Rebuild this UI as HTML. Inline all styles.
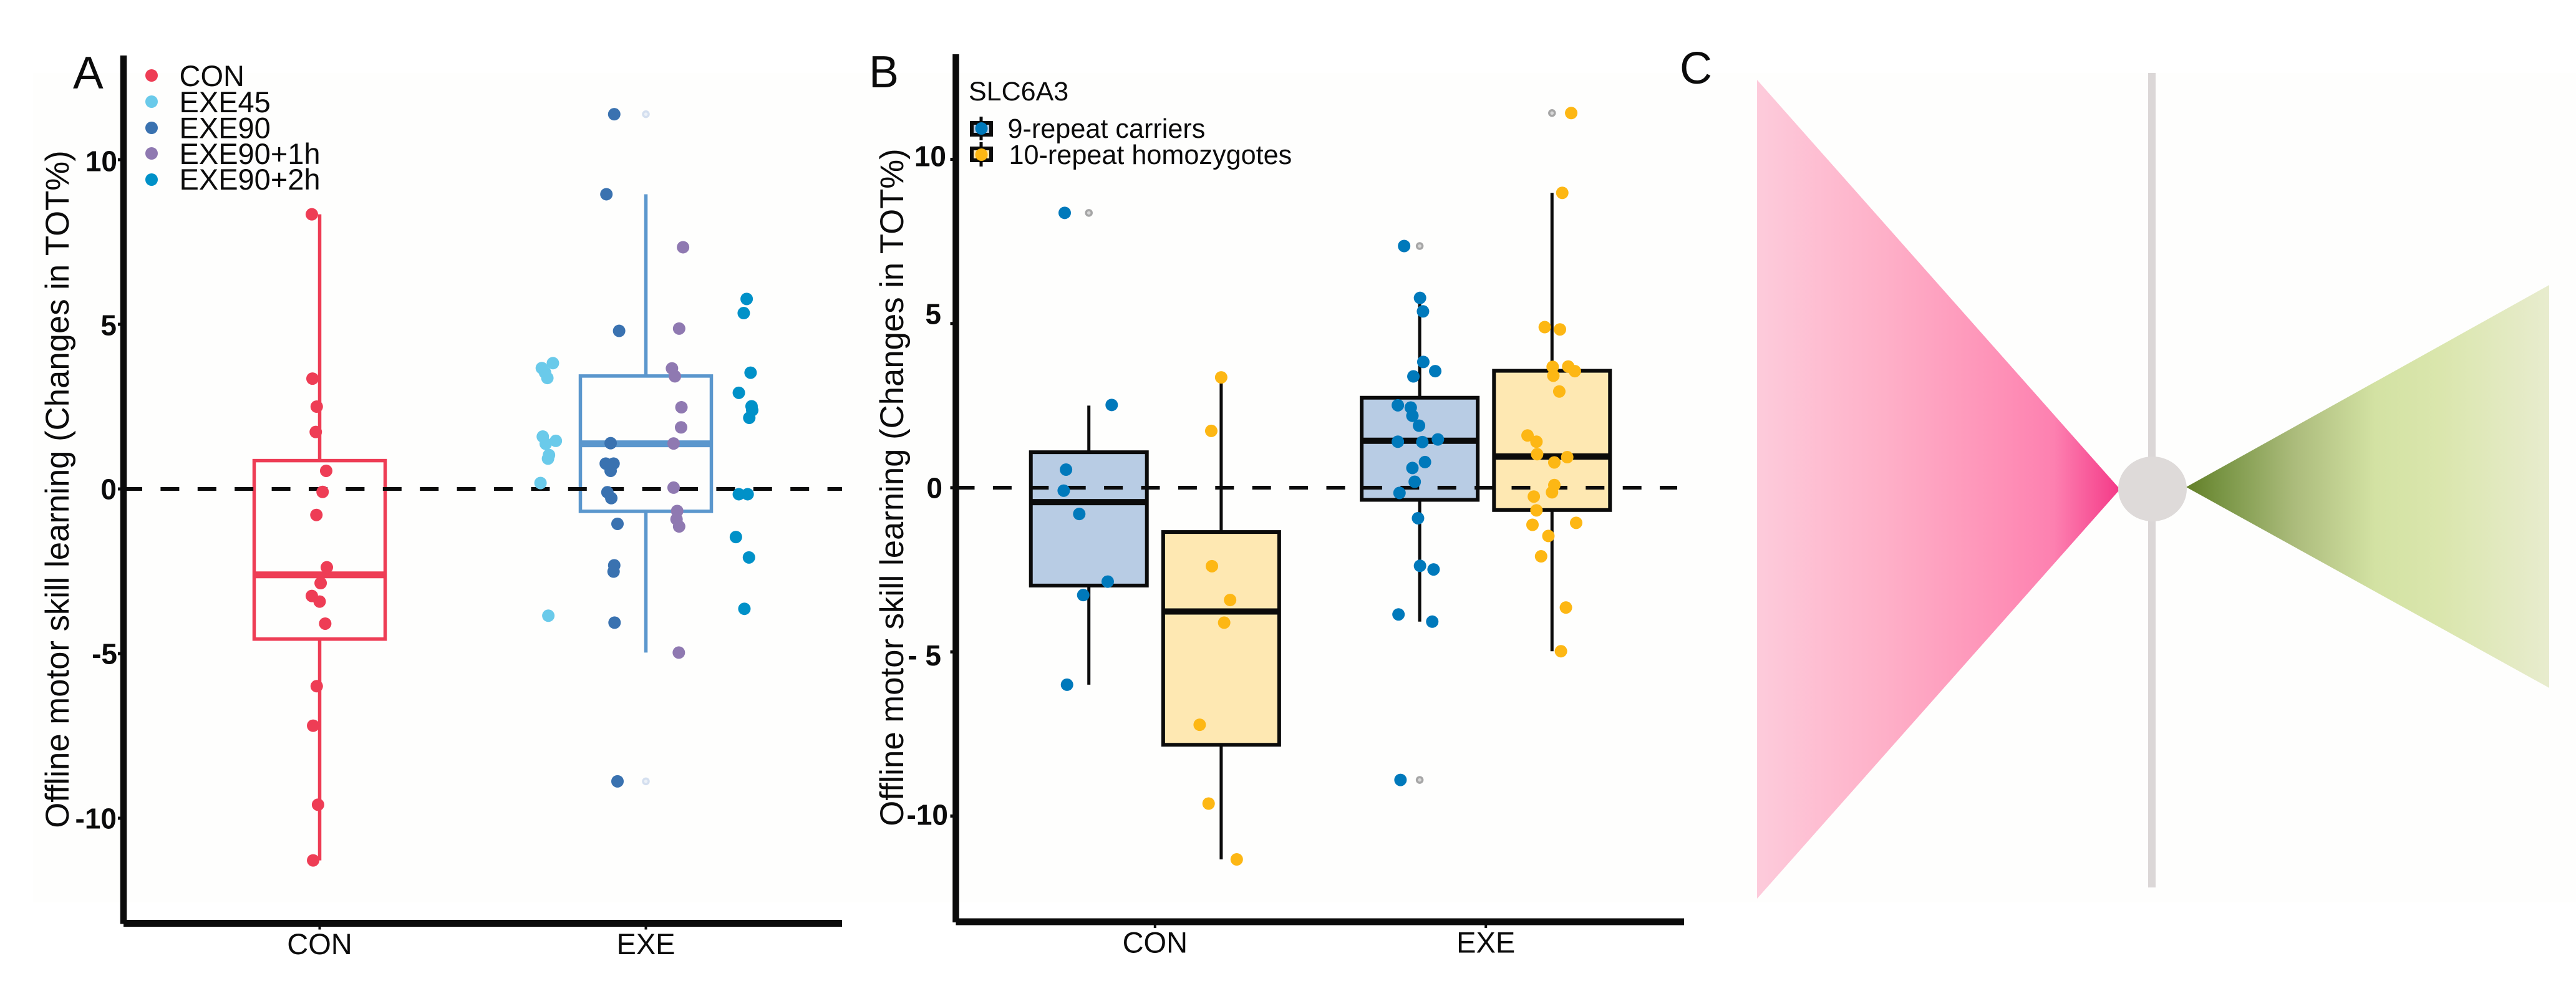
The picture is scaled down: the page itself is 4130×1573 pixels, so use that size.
<!DOCTYPE html>
<html lang="en">
<head>
<meta charset="utf-8">
<title>Offline motor skill learning</title>
<style>
html,body{margin:0;padding:0;background:#fff}
svg{display:block}
text{font-family:"Liberation Sans",sans-serif;fill:#0b0b0b}
</style>
</head>
<body>
<svg id="figure" xmlns="http://www.w3.org/2000/svg" width="4130" height="1573" viewBox="0 0 4130 1573">
  <defs>
    <linearGradient id="pinkGrad" gradientUnits="userSpaceOnUse" x1="2817" y1="0" x2="3398" y2="0">
      <stop offset="0" stop-color="#fdcbdb"/>
      <stop offset="0.35" stop-color="#feb0c8"/>
      <stop offset="0.65" stop-color="#fe93b8"/>
      <stop offset="0.82" stop-color="#fd80b0"/>
      <stop offset="1" stop-color="#f43a88"/>
    </linearGradient>
    <linearGradient id="greenGrad" gradientUnits="userSpaceOnUse" x1="3506" y1="0" x2="4087" y2="0">
      <stop offset="0" stop-color="#637f28"/>
      <stop offset="0.1" stop-color="#7a9646"/>
      <stop offset="0.3" stop-color="#acbc7c"/>
      <stop offset="0.52" stop-color="#d3e2a3"/>
      <stop offset="0.7" stop-color="#dae6ad"/>
      <stop offset="1" stop-color="#e8ecce"/>
    </linearGradient>
  </defs>

  <rect x="0" y="0" width="4130" height="1573" fill="#ffffff"/>
  <rect x="53" y="117" width="4077" height="1330" fill="#fefefd"/>

  <g id="panelA"></g>
  <g id="panelB"></g>

  <text x="117" y="142" font-size="73">A</text>
  <text x="1393" y="140" font-size="72">B</text>
  <text x="2693" y="134" font-size="72">C</text>

  <text font-size="52.7" text-anchor="middle" transform="translate(110,784.5) rotate(-90)">Offline motor skill learning (Changes in TOT%)</text>
  <text font-size="52.7" text-anchor="middle" transform="translate(1448,781.5) rotate(-90)">Offline motor skill learning (Changes in TOT%)</text>

  <g>
    <circle cx="243" cy="121" r="10" fill="#ee3d55"/>
    <text x="287.5" y="138" font-size="47">CON</text>
    <circle cx="243" cy="163" r="10" fill="#6acaea"/>
    <text x="287.5" y="180" font-size="47">EXE45</text>
    <circle cx="243" cy="205" r="10" fill="#3a72b0"/>
    <text x="287.5" y="221.5" font-size="47">EXE90</text>
    <circle cx="243" cy="246" r="10" fill="#8f79b1"/>
    <text x="287.5" y="263" font-size="47">EXE90+1h</text>
    <circle cx="243" cy="288" r="10" fill="#0091c8"/>
    <text x="287.5" y="304" font-size="47">EXE90+2h</text>
  </g>

  <g>
    <text x="1553" y="161" font-size="43">SLC6A3</text>
    <line x1="1573" x2="1573" y1="187" y2="225" stroke="#0b0b0b" stroke-width="5"/>
    <rect x="1558" y="197" width="31" height="19" fill="#b8cce4" stroke="#0b0b0b" stroke-width="6"/>
    <circle cx="1573.5" cy="206" r="10" fill="#0079bb"/>
    <text x="1615.5" y="221" font-size="43.2">9-repeat carriers</text>
    <line x1="1573" x2="1573" y1="228" y2="267" stroke="#0b0b0b" stroke-width="5"/>
    <rect x="1558" y="238" width="31" height="19" fill="#fee8b2" stroke="#0b0b0b" stroke-width="6"/>
    <circle cx="1573.5" cy="248" r="10" fill="#fdb714"/>
    <text x="1617.5" y="263" font-size="43.2">10-repeat homozygotes</text>
  </g>

  <g>
    <polygon points="2817,128 3399,784.5 2817,1441" fill="url(#pinkGrad)"/>
    <polygon points="3505,781 4087,457 4087,1103" fill="url(#greenGrad)"/>
    <rect x="3444" y="117" width="12" height="1306" fill="#dbd7d7"/>
    <ellipse cx="3451" cy="784" rx="55" ry="52" fill="#dedad9"/>
  </g>

<script>
// ---------- shared axis data ----------
const xCategories = ['CON', 'EXE'];
const yTickValues = [10, 5, 0, -5, -10];

// ---------- panel A data (x in category units, y in % change) ----------
const aBoxX = [0, 1];
const aBoxQ1 = [-4.56, -0.68];
const aBoxMedian = [-2.61, 1.37];
const aBoxQ3 = [0.86, 3.43];
const aWhiskerLow = [-11.28, -4.97];
const aWhiskerHigh = [8.34, 8.95];
const aOutliers = [[], [11.38, -8.88]];
const aTickLabels = ['10', '5', '0', '-5', '-10'];

const conX = [-0.024,-0.022,-0.009,-0.012,0.020,0.009,-0.010,0.022,0.003,-0.024,0,0.017,-0.009,-0.020,-0.005,-0.020];
const conY = [8.34,3.35,2.50,1.73,0.55,-0.09,-0.79,-2.38,-2.86,-3.25,-3.42,-4.09,-5.99,-7.19,-9.59,-11.28];
const exe45X = [0.715,0.681,0.691,0.698,0.684,0.724,0.693,0.703,0.700,0.677,0.701];
const exe45Y = [3.82,3.67,3.53,3.37,1.59,1.46,1.37,1.03,0.92,0.18,-3.85];
const exe90X = [0.903,0.879,0.918,0.892,0.877,0.901,0.892,0.882,0.894,0.913,0.903,0.901,0.904,0.913];
const exe90Y = [11.38,8.95,4.80,1.39,0.77,0.77,0.55,-0.10,-0.28,-1.06,-2.32,-2.51,-4.06,-8.88];
const exe901hX = [1.114,1.102,1.080,1.089,1.109,1.108,1.085,1.085,1.096,1.094,1.102,1.101];
const exe901hY = [7.34,4.87,3.66,3.42,2.48,1.87,1.38,0.04,-0.67,-0.92,-1.14,-4.97];
const exe902hX = [1.309,1.300,1.321,1.285,1.324,1.326,1.317,1.285,1.312,1.276,1.316,1.302];
const exe902hY = [5.77,5.34,3.53,2.92,2.51,2.39,2.16,-0.16,-0.16,-1.46,-2.08,-3.64];

// ---------- panel B data ----------
const bBoxX = [-0.2, 0.2, 0.8, 1.2];
const bBoxQ1 = [-2.98, -7.83, -0.37, -0.68];
const bBoxMedian = [-0.44, -3.77, 1.43, 0.95];
const bBoxQ3 = [1.08, -1.35, 2.74, 3.56];
const bWhiskerLow = [-6.0, -11.32, -4.08, -4.98];
const bWhiskerHigh = [2.50, 3.36, 5.78, 8.98];
const bOutliers = [[8.37], [], [7.36, -8.9], [11.41]];
const bTickLabels = ['10', '5', '0', '- 5', '-10'];

const con9X = [-0.273,-0.131,-0.269,-0.276,-0.229,-0.143,-0.217,-0.266];
const con9Y = [8.37,2.52,0.55,-0.09,-0.80,-2.86,-3.27,-6.0];
const con10X = [0.200,0.170,0.172,0.227,0.209,0.135,0.162,0.247];
const con10Y = [3.36,1.73,-2.39,-3.42,-4.11,-7.22,-9.62,-11.32];
const exe9X = [0.753,0.801,0.810,0.811,0.847,0.781,0.734,0.773,0.778,0.798,0.855,0.734,0.808,0.816,0.778,0.785,0.739,0.795,0.801,0.842,0.736,0.838,0.742];
const exe9Y = [7.36,5.78,5.37,3.83,3.55,3.39,2.51,2.44,2.19,1.89,1.47,1.40,1.39,0.78,0.60,0.18,-0.16,-0.93,-2.38,-2.49,-3.86,-4.08,-8.9];
const exe10X = [1.258,1.231,1.178,1.224,1.202,1.249,1.269,1.204,1.222,1.126,1.153,1.155,1.246,1.207,1.207,1.200,1.145,1.153,1.273,1.141,1.189,1.167,1.242,1.227];
const exe10Y = [11.41,8.98,4.89,4.82,3.68,3.69,3.55,3.41,2.93,1.59,1.40,1.02,0.93,0.77,0.08,-0.14,-0.27,-0.69,-1.07,-1.13,-1.47,-2.09,-3.65,-4.98];

// ---------- axis functions ----------
const xA = v => 512.5 + v * 523;
const yA = v => 784 - v * 52.8;
const xB = v => 1851.8 + v * 530.4;
const yB = v => 782 - v * 52.65;

const NS = 'http://www.w3.org/2000/svg';
function make(parent, tag, props) {
  const node = document.createElementNS(NS, tag);
  for (const k in props) node.setAttribute(k, props[k]);
  parent.appendChild(node);
  return node;
}

function drawAxes(parent, prefix, o) {
  const INK = '#0b0b0b';
  const yAxis = make(parent, 'line', {x1:o.axisX, x2:o.axisX, y1:o.axisTop, y2:o.axisBottom + 1, stroke:INK, 'stroke-width':10.5});
  
  
  const xAxis = make(parent, 'line', {x1:o.axisX, x2:o.axisRight, y1:o.axisBottom, y2:o.axisBottom, stroke:INK, 'stroke-width':11});
  
  

  yTickValues.forEach((v, i) => {
    const tick = make(parent, 'line', {x1:o.axisX - 9, x2:o.axisX, y1:o.y(v), y2:o.y(v), stroke:INK, 'stroke-width':5});
    
    
    const label = make(parent, 'text', {x:o.labelX + o.labelDx[i], y:o.y(v) + o.labelDy[i] + 16.5, 'text-anchor':'end', 'font-size':46, 'font-weight':'bold', 'xml:space':'preserve'});
    
    
    label.textContent = o.tickLabels[i];
  });

  xCategories.forEach((c, i) => {
    const tick = make(parent, 'line', {x1:o.x(i), x2:o.x(i), y1:o.axisBottom, y2:o.axisBottom + 10, stroke:INK, 'stroke-width':4});
    
    
    const label = make(parent, 'text', {x:o.x(i), y:o.catBaseline, 'text-anchor':'middle', 'font-size':47});
    
    
    label.textContent = c;
  });
}

function drawBoxes(parent, prefix, o, s) {
  s.x.forEach((pos, i) => {
    const g = make(parent, 'g', {});
    
    
    const cx = o.x(pos);
    const stroke = s.stroke[i];
    const upper = make(g, 'line', {x1:cx, x2:cx, y1:o.y(s.whiskerHigh[i]), y2:o.y(s.q3[i]), stroke:stroke, 'stroke-width':s.whiskerWidth});
    
    
    const lower = make(g, 'line', {x1:cx, x2:cx, y1:o.y(s.q1[i]), y2:o.y(s.whiskerLow[i]), stroke:stroke, 'stroke-width':s.whiskerWidth});
    
    
    const box = make(g, 'rect', {x:cx - s.halfWidth, y:o.y(s.q3[i]), width:s.halfWidth * 2, height:o.y(s.q1[i]) - o.y(s.q3[i]), fill:s.fill[i], stroke:stroke, 'stroke-width':s.boxWidth});
    
    
    const median = make(g, 'line', {x1:cx - s.halfWidth, x2:cx + s.halfWidth, y1:o.y(s.median[i]), y2:o.y(s.median[i]), stroke:stroke, 'stroke-width':s.medianWidth});
    
    
    s.outliers[i].forEach(v => {
      const out = make(g, 'circle', {cx:cx, cy:o.y(v), r:4.5, fill:s.outlierFill, stroke:s.outlierStroke, 'stroke-width':3.5});
      
      
    });
  });
}

function drawZero(parent, prefix, o) {
  const zero = make(parent, 'line', {x1:o.axisX, x2:o.dashEnd, y1:o.y(0), y2:o.y(0), stroke:'#0b0b0b', 'stroke-width':6, 'stroke-dasharray':'30 29.4'});
  
  
}

function drawPoints(parent, name, o, xs, ys, color) {
  const g = make(parent, 'g', {fill:color});
  
  
  ys.forEach((v, i) => {
    const c = make(g, 'circle', {cx:o.x(xs[i]), cy:o.y(v), r:10});
    
    
  });
}

// ---------- panel A ----------
const panelA = document.getElementById('panelA');
const layoutA = {x:xA, y:yA, axisX:198, axisTop:89, axisBottom:1480.5, axisRight:1350, dashEnd:1350,
  labelX:188, labelDx:[0,-1,-1,0,-1], labelDy:[2,1,0,0,0], tickLabels:aTickLabels, catBaseline:1530};
drawBoxes(panelA, 'panel-a', layoutA, {x:aBoxX, q1:aBoxQ1, median:aBoxMedian, q3:aBoxQ3, whiskerLow:aWhiskerLow, whiskerHigh:aWhiskerHigh, outliers:aOutliers,
  stroke:['#ee3d55','#5b97cd'], fill:['none','none'], halfWidth:105, boxWidth:5.5, whiskerWidth:5.5, medianWidth:11, outlierFill:'#ecf1f8', outlierStroke:'#d4dfef'});
drawZero(panelA, 'panel-a', layoutA);
drawAxes(panelA, 'panel-a', layoutA);
drawPoints(panelA, 'con', layoutA, conX, conY, '#ee3d55');
drawPoints(panelA, 'exe45', layoutA, exe45X, exe45Y, '#6acaea');
drawPoints(panelA, 'exe90', layoutA, exe90X, exe90Y, '#3a72b0');
drawPoints(panelA, 'exe90-1h', layoutA, exe901hX, exe901hY, '#8f79b1');
drawPoints(panelA, 'exe90-2h', layoutA, exe902hX, exe902hY, '#0091c8');

// ---------- panel B ----------
const panelB = document.getElementById('panelB');
const layoutB = {x:xB, y:yB, axisX:1532.5, axisTop:87, axisBottom:1478, axisRight:2700, dashEnd:2689,
  labelX:1517, labelDx:[0,-8,-6,-8,3], labelDy:[-5.5,-16,0,5,-2.5], tickLabels:bTickLabels, catBaseline:1527.5};
drawBoxes(panelB, 'panel-b', layoutB, {x:bBoxX, q1:bBoxQ1, median:bBoxMedian, q3:bBoxQ3, whiskerLow:bWhiskerLow, whiskerHigh:bWhiskerHigh, outliers:bOutliers,
  stroke:['#0b0b0b','#0b0b0b','#0b0b0b','#0b0b0b'], fill:['#b8cce4','#fee8b2','#b8cce4','#fee8b2'], halfWidth:93, boxWidth:6, whiskerWidth:5, medianWidth:10, outlierFill:'#d8d8d8', outlierStroke:'#a6a6a6'});
drawZero(panelB, 'panel-b', layoutB);
drawAxes(panelB, 'panel-b', layoutB);
drawPoints(panelB, 'con-9-repeat', layoutB, con9X, con9Y, '#0079bb');
drawPoints(panelB, 'con-10-repeat', layoutB, con10X, con10Y, '#fdb714');
drawPoints(panelB, 'exe-9-repeat', layoutB, exe9X, exe9Y, '#0079bb');
drawPoints(panelB, 'exe-10-repeat', layoutB, exe10X, exe10Y, '#fdb714');
</script>
</svg>
</body>
</html>
